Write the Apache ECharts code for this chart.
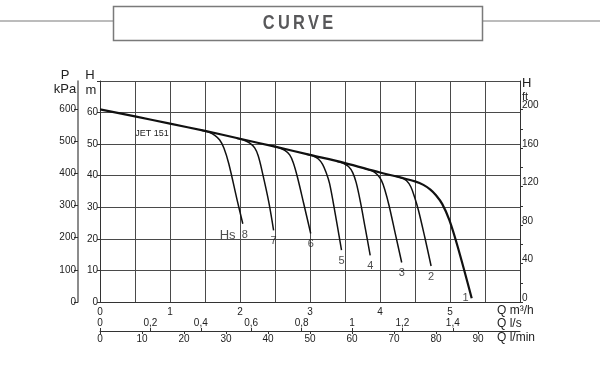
<!DOCTYPE html>
<html>
<head>
<meta charset="utf-8">
<title>JET 151 curve</title>
<script src="https://cdn.jsdelivr.net/npm/echarts@6.0.0/dist/echarts.min.js"></script>
<style>
  html, body { margin: 0; padding: 0; background: #fff; }
  #chart { width: 600px; height: 376px; }
</style>
</head>
<body>
<div id="chart"></div>
<script>
// flow Q in m3/h, head H in m
const mainQ = [0, 0.5, 1, 1.5, 2, 2.5, 3, 3.5, 4, 4.3, 4.5, 4.62, 4.72, 4.8, 4.89, 4.99, 5.11, 5.31];
const mainH = [61, 58.8, 56.5, 54.2, 51.7, 49.2, 46.6, 44.0, 41.0, 39.4, 38.2, 37.1, 35.6, 33.8, 31.0, 26.0, 17.5, 1.2];

const hs2Q = [4.2, 4.3, 4.38, 4.44, 4.49, 4.55, 4.64, 4.73];
const hs2H = [39.9, 39.4, 38.4, 36.5, 33.5, 29.0, 20.5, 11.4];
const hs3Q = [3.78, 3.88, 3.96, 4.02, 4.07, 4.13, 4.22, 4.31];
const hs3H = [42.3, 41.6, 40.4, 38.5, 35.5, 30.5, 21.5, 12.5];
const hs4Q = [3.38, 3.47, 3.55, 3.61, 3.66, 3.72, 3.79, 3.86];
const hs4H = [44.6, 44.0, 42.9, 41.0, 37.8, 31.7, 23.3, 14.8];
const hs5Q = [2.95, 3.04, 3.12, 3.18, 3.23, 3.28, 3.36, 3.45];
const hs5H = [46.8, 46.3, 45.3, 43.6, 41.0, 37.5, 28.0, 16.4];
const hs6Q = [2.45, 2.55, 2.64, 2.71, 2.76, 2.82, 2.91, 3.01];
const hs6H = [49.5, 48.9, 48.0, 46.6, 44.2, 39.6, 31.2, 21.7];
const hs7Q = [1.95, 2.05, 2.14, 2.21, 2.26, 2.32, 2.41, 2.48];
const hs7H = [51.9, 51.3, 50.3, 48.8, 46.3, 41.0, 31.8, 22.7];
const hs8Q = [1.45, 1.55, 1.64, 1.71, 1.77, 1.84, 1.96, 2.04];
const hs8H = [54.4, 53.8, 52.8, 51.3, 48.8, 43.8, 32.2, 24.8];

const hsNames = ['1', '2', '3', '4', '5', '6', '7', '8'];

const flowTicks = [0, 1, 2, 3, 4, 5];               // m3/h
const lsTicks = [0, 0.2, 0.4, 0.6, 0.8, 1, 1.2, 1.4]; // l/s
const lminTicks = [0, 10, 20, 30, 40, 50, 60, 70, 80, 90];
const kpaTicks = [0, 100, 200, 300, 400, 500, 600];
const ftTicks = [0, 20, 40, 60, 80, 100, 120, 140, 160, 180, 200];
const ftLabels = [0, 40, 80, 120, 160, 200];

const curves = [
  [mainQ, mainH], [hs2Q, hs2H], [hs3Q, hs3H], [hs4Q, hs4H],
  [hs5Q, hs5H], [hs6Q, hs6H], [hs7Q, hs7H], [hs8Q, hs8H]
];

const FONT = '"Liberation Sans", Arial, sans-serif';
const INK = '#222';
const AXIS = '#333';
const label = (extra) => Object.assign({ fontFamily: FONT, fontSize: 10, color: INK }, extra);

const chart = echarts.init(document.getElementById('chart'), null, { renderer: 'canvas' });

const lineSeries = curves.map((c, i) => ({
  type: 'line',
  xAxisIndex: 0,
  yAxisIndex: 0,
  data: c[0].map((q, j) => [q, c[1][j]]),
  smooth: 0.35,
  symbol: 'none',
  silent: true,
  z: i === 0 ? 4 : 3,
  lineStyle: { color: '#111', width: i === 0 ? 2.2 : 1.5 }
}));

// curve numbers at the bottom end of each curve
const endPoints = curves.map((c, i) => {
  const item = { value: [c[0][c[0].length - 1], c[1][c[1].length - 1]] };
  if (i === 0) item.label = { position: 'left', distance: 3 };
  if (i === 7) item.label = { align: 'right', offset: [5, 0] };
  return item;
});

chart.setOption({
  animation: false,
  backgroundColor: '#fff',
  grid: [
    { left: 100, top: 81, width: 420, height: 221 },
    { left: 100, top: 330, width: 420, height: 1 }
  ],
  xAxis: [
    {
      gridIndex: 0, type: 'value', min: 0, max: 6, interval: 0.5,
      axisLine: { lineStyle: { color: AXIS, width: 1 } },
      axisTick: { show: false },
      axisLabel: label({ customValues: flowTicks, margin: 5 }),
      splitLine: { show: true, lineStyle: { color: '#4a4a4a', width: 1 } }
    },
    {
      gridIndex: 1, type: 'value', position: 'top', min: 0, max: 6 / 3.6,
      axisLine: { lineStyle: { color: AXIS, width: 1 } },
      axisTick: { length: 3, customValues: lsTicks, lineStyle: { color: AXIS } },
      axisLabel: label({
        customValues: lsTicks, margin: 2,
        formatter: (v) => String(+v.toFixed(1)).replace('.', ',')
      }),
      splitLine: { show: false }
    },
    {
      gridIndex: 1, type: 'value', position: 'bottom', min: 0, max: 100,
      axisLine: { show: false },
      axisTick: { length: 3, customValues: lminTicks, lineStyle: { color: AXIS } },
      axisLabel: label({ customValues: lminTicks, margin: 3 }),
      splitLine: { show: false }
    }
  ],
  yAxis: [
    {
      gridIndex: 0, type: 'value', position: 'left', min: 0, max: 70, interval: 10,
      axisLine: { show: true, lineStyle: { color: AXIS, width: 1 } },
      axisTick: { show: true, length: 3, lineStyle: { color: AXIS } },
      axisLabel: label({ margin: 2, formatter: (v) => (v > 60 ? '' : v) }),
      splitLine: { show: true, lineStyle: { color: '#4a4a4a', width: 1 } }
    },
    {
      gridIndex: 0, type: 'value', position: 'left', offset: 22, min: 0, max: 70 * 9.80665,
      axisLine: { show: true, lineStyle: { color: '#666', width: 1.5 } },
      axisTick: { show: true, length: 4, customValues: kpaTicks, lineStyle: { color: AXIS } },
      axisLabel: label({ customValues: kpaTicks, margin: 2 }),
      splitLine: { show: false }
    },
    {
      gridIndex: 0, type: 'value', position: 'right', min: 0, max: 70 / 0.3048,
      axisLine: { show: true, lineStyle: { color: AXIS, width: 1 } },
      axisTick: { show: true, length: 3, customValues: ftTicks, lineStyle: { color: AXIS } },
      axisLabel: label({ customValues: ftLabels, margin: 2, verticalAlign: 'bottom', lineHeight: 8 }),
      splitLine: { show: false }
    },
    { gridIndex: 1, type: 'value', min: 0, max: 1, show: false }
  ],
  series: lineSeries.concat([{
    type: 'scatter',
    xAxisIndex: 0,
    yAxisIndex: 0,
    symbolSize: 0,
    silent: true,
    data: endPoints,
    label: {
      show: true,
      position: 'bottom',
      distance: 5,
      fontFamily: FONT,
      fontSize: 11,
      color: INK,
      formatter: (p) => (p.dataIndex === 7 ? '{hs|Hs}  ' : '') + hsNames[p.dataIndex],
      rich: { hs: { fontFamily: FONT, fontSize: 13, color: INK } }
    }
  }]),
  graphic: [
    { type: 'rect', shape: { x: 113.5, y: 6.5, width: 369, height: 34 }, style: { fill: 'none', stroke: '#7a7a7a', lineWidth: 1.5 } },
    { type: 'line', shape: { x1: 0, y1: 21, x2: 113, y2: 21 }, style: { stroke: '#7a7a7a', lineWidth: 1.2 } },
    { type: 'line', shape: { x1: 483, y1: 21, x2: 600, y2: 21 }, style: { stroke: '#7a7a7a', lineWidth: 1.2 } },
    { type: 'text', x: 298, y: 23, scaleX: 0.78, style: { text: 'C\u2009U\u2009R\u2009V\u2009E', font: 'bold 21px "Liberation Sans", Arial, sans-serif', fill: '#58585a', align: 'center', verticalAlign: 'middle' } },
    { type: 'text', x: 65, y: 75, style: { text: 'P', font: '13px ' + FONT, fill: INK, align: 'center', verticalAlign: 'middle' } },
    { type: 'text', x: 65, y: 89, style: { text: 'kPa', font: '13px ' + FONT, fill: INK, align: 'center', verticalAlign: 'middle' } },
    { type: 'text', x: 90, y: 75, style: { text: 'H', font: '13px ' + FONT, fill: INK, align: 'center', verticalAlign: 'middle' } },
    { type: 'text', x: 91, y: 90, style: { text: 'm', font: '13px ' + FONT, fill: INK, align: 'center', verticalAlign: 'middle' } },
    { type: 'text', x: 522, y: 83, style: { text: 'H', font: '13px ' + FONT, fill: INK, align: 'left', verticalAlign: 'middle' } },
    { type: 'text', x: 522, y: 97, style: { text: 'ft', font: '11px ' + FONT, fill: INK, align: 'left', verticalAlign: 'middle' } },
    { type: 'text', x: 497, y: 311, style: { text: 'Q m³/h', font: '12px ' + FONT, fill: INK, align: 'left', verticalAlign: 'middle' } },
    { type: 'text', x: 497, y: 324, style: { text: 'Q l/s', font: '12px ' + FONT, fill: INK, align: 'left', verticalAlign: 'middle' } },
    { type: 'text', x: 497, y: 338, style: { text: 'Q l/min', font: '12px ' + FONT, fill: INK, align: 'left', verticalAlign: 'middle' } },
    { type: 'text', x: 152, y: 134, style: { text: 'JET 151', font: '9px ' + FONT, fill: INK, align: 'center', verticalAlign: 'middle' } }
  ]
});
</script>
</body>
</html>
